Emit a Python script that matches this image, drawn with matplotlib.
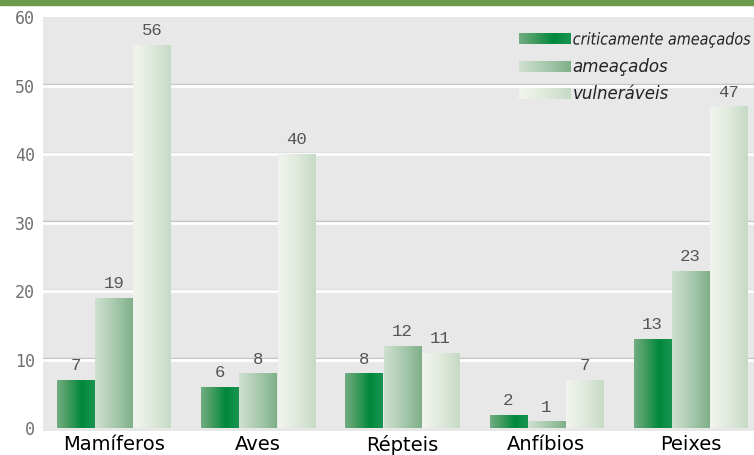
import numpy as np
import matplotlib
matplotlib.use('Agg')
import matplotlib.pyplot as plt
from matplotlib.colors import LinearSegmentedColormap
from matplotlib.patches import Rectangle, PathPatch
from matplotlib.textpath import TextPath
from matplotlib.font_manager import FontProperties
import matplotlib.transforms as mtransforms

categorias = ['Mamíferos', 'Aves', 'Répteis', 'Anfíbios', 'Peixes']
series = ['criticamente ameaçados', 'ameaçados', 'vulneráveis']
criticamente = [7, 6, 8, 2, 13]
ameacados = [19, 8, 12, 1, 23]
vulneraveis = [56, 40, 11, 7, 47]
yticks = [0, 10, 20, 30, 40, 50, 60]

# gradientes esquerda -> direita de cada serie
grad_cores = [
    ['#72ad82', '#3d9a5c', '#00883c', '#1a9450'],
    ['#cfe0cf', '#a9caaf', '#7fb188'],
    ['#f1f4ee', '#e0eadc', '#c6dac6'],
]
cmaps = [LinearSegmentedColormap.from_list('g%d' % i, c) for i, c in enumerate(grad_cores)]

fig = plt.figure(figsize=(7.54, 4.55), dpi=100)
fig.patches.append(Rectangle((0, 0.988), 1, 0.012, transform=fig.transFigure,
                             color='#6b9a4c', zorder=0))
ax = fig.add_axes([0.057, 0.0527, 0.943, 0.9099])
ax.set_facecolor('#e8e8e8')

x = np.arange(len(categorias))
w = 0.265
grad = np.linspace(0, 1, 64).reshape(1, -1)
dados = [criticamente, ameacados, vulneraveis]
for i, vals in enumerate(dados):
    bars = ax.bar(x + (i - 1) * w, vals, w * 0.97, color='none', zorder=3)
    for b, v in zip(bars, vals):
        bx, by = b.get_x(), b.get_y()
        im = ax.imshow(grad, cmap=cmaps[i], aspect='auto', zorder=3,
                       extent=[bx, bx + b.get_width(), by, by + b.get_height()])
        im.set_clip_path(b)
        ax.text(b.get_x() + b.get_width() / 2, v + 1.0, str(v), ha='center', va='bottom',
                fontsize=12.5, family='Liberation Mono', color='#555555', zorder=4)

# linhas de grade: sombra cinza + branco
shift = mtransforms.ScaledTranslation(0, 1.5 / 100, fig.dpi_scale_trans)
for yv in yticks[1:-1]:
    sh = ax.axhline(yv, color='#c4c4c4', lw=1, zorder=1)
    sh.set_transform(sh.get_transform() + shift)
    ax.axhline(yv, color='white', lw=2, zorder=1)

ax.set_xlim(-0.49, 4.44)
ax.set_ylim(-0.4, 60.05)
ax.set_yticks(yticks)
ax.set_yticklabels([str(t) for t in yticks], family='DejaVu Sans Mono', fontsize=12, color='#707070')
ax.set_xticks(x)
ax.set_xticklabels(categorias, fontsize=14, family='DejaVu Sans', color='black')
ax.tick_params(axis='both', length=0)
ax.tick_params(axis='y', pad=6)
ax.tick_params(axis='x', pad=3)
for s in ax.spines.values():
    s.set_visible(False)

# legenda manual
leg_y = [0.948, 0.88, 0.815]
fp_it = FontProperties(family='DejaVu Sans', style='italic')
for i, (nome, yy) in enumerate(zip(series, leg_y)):
    ax.imshow(grad, cmap=cmaps[i], aspect='auto', transform=ax.transAxes,
              extent=[0.67, 0.743, yy - 0.013, yy + 0.013], zorder=5)
    if i == 0:
        # texto condensado
        tp = TextPath((0, 0), nome, size=16.5, prop=fp_it)
        largura = tp.get_extents().width
        sx = 177.0 / largura
        px, py = ax.transAxes.transform((0.745, yy))
        tr = mtransforms.Affine2D().scale(sx, 1).translate(px, py - 6)
        fig.add_artist(PathPatch(tp, transform=tr, facecolor='#222222', edgecolor='none', lw=0))
    else:
        ax.text(0.745, yy, nome, transform=ax.transAxes, va='center', ha='left', style='italic',
                fontsize=12, family='DejaVu Sans', color='#222222', zorder=5)
ax.set_xlim(-0.49, 4.44)
ax.set_ylim(-0.4, 60.05)

fig.savefig('out.png', dpi=100, facecolor='white')
